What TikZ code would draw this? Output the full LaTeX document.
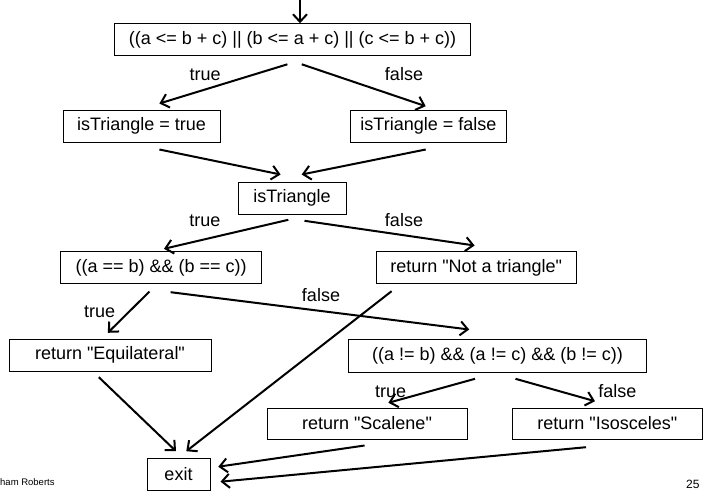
\documentclass[tikz,border=0pt]{standalone}
\usepackage{fontspec}
\setmainfont{Liberation Sans}
\usetikzlibrary{arrows.meta}

\newcommand{\dq}{\textquotedbl}

\tikzset{
  box/.style={draw, line width=1pt, minimum height=32pt, inner sep=0pt,
              font=\fontsize{18}{21}\selectfont},
  flow/.style={line width=2pt, -{Straight Barb[length=7.5pt,width=14pt]}},
  branch/.style={inner sep=0pt, anchor=base, font=\fontsize{18}{21}\selectfont},
}

\begin{document}
\begin{tikzpicture}[x=1pt, y=-1pt]
  \useasboundingbox (0,0) rectangle (704,490);
  \clip (0,0) rectangle (704,490);
  \fill[white] (0,0) rectangle (704,490);

  % decisions and statements
  \node[box, minimum width=356pt] (c1)  at (292.5,39.7) {((a <= b + c) || (b <= a + c) || (c <= b + c))};
  \node[box, minimum width=157pt] (t1)  at (141.5,126.3) {isTriangle = true};
  \node[box, minimum width=156pt] (f1)  at (428.4,126.3) {isTriangle = false};
  \node[box, minimum width=108pt] (it)  at (292,198.3) {isTriangle};
  \node[box, minimum width=201pt] (eq)  at (161.2,267.5) {((a == b) \&\& (b == c))};
  \node[box, minimum width=200pt] (nt)  at (476.2,267.5) {return \dq Not a triangle\dq};
  \node[box, minimum width=202pt] (eql) at (110,355) {return \dq Equilateral\dq};
  \node[box, minimum width=298pt, minimum height=33pt] (ne) at (497.5,355.5) {((a != b) \&\& (a != c) \&\& (b != c))};
  \node[box, minimum width=200pt, minimum height=31pt] (sc) at (367,423.5) {return \dq Scalene\dq};
  \node[box, minimum width=190pt, minimum height=31pt] (is) at (607.3,423.5) {return \dq Isosceles\dq};
  \node[box, minimum width=63pt] (ex) at (178.5,474.3) {exit};

  % entry point
  \coordinate (entry) at (300,0);
  \draw[flow] (entry) -- ([shift={(7.5,0)}]c1.north);

  % first decision
  \draw[flow] ([shift={(-5.1,8.1)}]c1.south) -- ([shift={(17.9,-6.3)}]t1.north);
  \draw[flow] ([shift={(9.3,8.1)}]c1.south) -- ([shift={(-2.7,-3.6)}]f1.north);
  \node[branch] (l1t) at (205.2,80) {true};
  \node[branch] (l1f) at (404,80) {false};

  % join on isTriangle
  \draw[flow] ([shift={(17.9,6.7)}]t1.south) -- ([shift={(-11.4,-7.3)}]it.north);
  \draw[flow] ([shift={(-2.7,6.7)}]f1.south) -- ([shift={(9.7,-7.3)}]it.north);

  % isTriangle test
  \draw[flow] ([shift={(-3.7,5)}]it.south) -- ([shift={(2.8,-2.2)}]eq.north);
  \draw[flow] ([shift={(12.5,6)}]it.south) -- ([shift={(-1.6,-5.5)}]nt.north);
  \node[branch] (l2t) at (205,226) {true};
  \node[branch] (l2f) at (404,226) {false};

  % equilateral test
  \draw[flow] ([shift={(-11.7,7.5)}]eq.south) -- ([shift={(-2.2,-5.7)}]eql.north);
  \draw[flow] ([shift={(9.4,8.2)}]eq.south) -- ([shift={(-28.3,-9)}]ne.north);
  \node[branch] (l3t) at (99.7,317) {true};
  \node[branch] (l3f) at (321,301) {false};

  % scalene test
  \draw[flow] ([shift={(-22.5,6.3)}]ne.south) -- ([shift={(21.4,-4.7)}]sc.north);
  \draw[flow] ([shift={(18,6.3)}]ne.south) -- ([shift={(-12.3,-6.3)}]is.north);
  \node[branch] (l4t) at (390.7,397) {true};
  \node[branch] (l4f) at (617.4,397) {false};

  % returns to exit
  \draw[flow] ([shift={(-84.6,7.2)}]nt.south) -- ([shift={(7.8,-6.6)}]ex.north);
  \draw[flow] ([shift={(-11.2,5.7)}]eql.south) -- ([shift={(-2.5,-6.6)}]ex.north);
  \draw[flow] ([shift={(-2.4,6)}]sc.south) -- ([shift={(7.8,-7.6)}]ex.east);
  \draw[flow] ([shift={(-21.3,7.7)}]is.south) -- ([shift={(10,7.4)}]ex.east);

  % footer
  \node[inner sep=0pt, anchor=base west, font=\fontsize{9.5}{11}\selectfont] (author) at (0,485.7) {ham Roberts};
  \node[inner sep=0pt, anchor=base west, font=\fontsize{12}{14}\selectfont] (page) at (686,488.5) {25};
\end{tikzpicture}
\end{document}
